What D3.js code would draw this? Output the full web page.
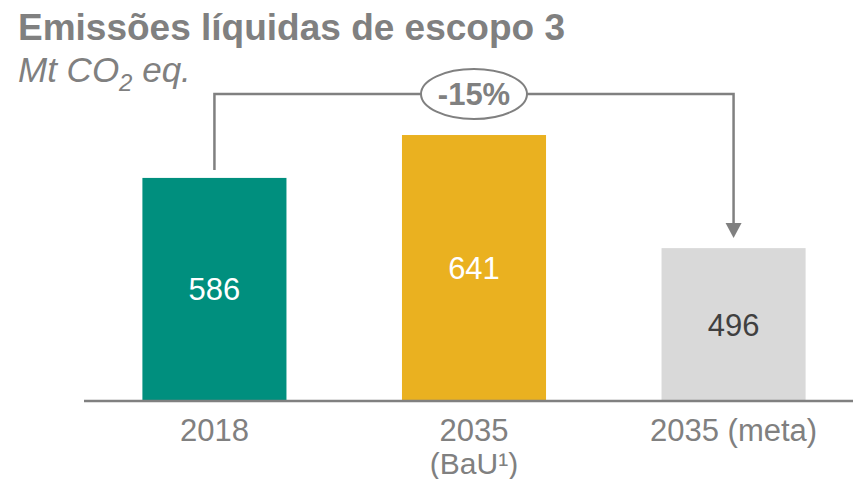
<!DOCTYPE html>
<html>
<head>
<meta charset="utf-8">
<script src="https://cdn.jsdelivr.net/npm/d3@7"></script>
<style>
  html, body { margin: 0; padding: 0; background: #ffffff; }
  svg { display: block; font-family: "Liberation Sans", Arial, sans-serif; }
</style>
</head>
<body>
<svg id="chart" width="853" height="479"></svg>
<script>
const categories = ["2018", "2035", "2035 (meta)"];
const categorySecondLine = ["", "(BaU¹)", ""];
const values = [586, 641, 496];
const barColors = ["#008F7E", "#EAB120", "#D9D9D9"];
const valueLabelColors = ["#ffffff", "#ffffff", "#404040"];
const changeLabel = "-15%";
const titleText = "Emissões líquidas de escopo 3";

const svg = d3.select("#chart");
const gray = "#808080";
const baseY = 401;

const x = d3.scaleBand()
  .domain(categories)
  .range([84, 864])
  .paddingInner(0.445)
  .paddingOuter(0.225);

const y = d3.scaleLinear().domain([300, 700]).range([baseY, 89]);

// Title
svg.append("text")
  .attr("x", 18).attr("y", 40)
  .attr("font-size", 37).attr("font-weight", "bold")
  .attr("fill", gray)
  .text(titleText);

// Subtitle
const sub = svg.append("text")
  .attr("x", 18).attr("y", 82)
  .attr("font-size", 35).attr("font-style", "italic")
  .attr("fill", gray);
sub.append("tspan").text("Mt CO");
sub.append("tspan").attr("font-size", 24).attr("dy", 9).text("2");
sub.append("tspan").attr("dy", -9).text(" eq.");

// Bars
svg.selectAll("rect.bar")
  .data(values)
  .join("rect")
  .attr("class", "bar")
  .attr("x", (d, i) => x(categories[i]))
  .attr("y", d => y(d))
  .attr("width", x.bandwidth())
  .attr("height", d => baseY - y(d))
  .attr("fill", (d, i) => barColors[i]);

// Value labels
svg.selectAll("text.val")
  .data(values)
  .join("text")
  .attr("class", "val")
  .attr("x", (d, i) => x(categories[i]) + x.bandwidth() / 2)
  .attr("y", d => (y(d) + baseY) / 2 + 11)
  .attr("text-anchor", "middle")
  .attr("font-size", 31)
  .attr("fill", (d, i) => valueLabelColors[i])
  .text(d => d);

// Axis (ticks hidden) + baseline
const axis = d3.axisBottom(x).tickSize(0).tickFormat("");
svg.append("g")
  .attr("transform", `translate(0,${baseY})`)
  .call(axis)
  .call(g => g.select(".domain").remove());
svg.append("line")
  .attr("x1", 84).attr("x2", 853)
  .attr("y1", baseY).attr("y2", baseY)
  .attr("stroke", gray).attr("stroke-width", 2.5);

// Category labels
categories.forEach((c, i) => {
  const cx = x(c) + x.bandwidth() / 2;
  const t = svg.append("text")
    .attr("x", cx).attr("y", 441)
    .attr("text-anchor", "middle")
    .attr("font-size", 31)
    .attr("fill", gray);
  t.append("tspan").attr("x", cx).text(c);
  if (categorySecondLine[i]) {
    t.append("tspan").attr("x", cx).attr("dy", 33)
      .attr("font-size", 30).text(categorySecondLine[i]);
  }
});

// Bracket connector
const x0 = x(categories[0]) + x.bandwidth() / 2;
const x2 = x(categories[2]) + x.bandwidth() / 2;
const xm = x(categories[1]) + x.bandwidth() / 2;
const topY = 94;
const arrowTip = y(values[2]) - 10;
svg.append("path")
  .attr("d", `M${x0},${y(values[0]) - 8} V${topY} H${x2} V${arrowTip - 14}`)
  .attr("fill", "none")
  .attr("stroke", gray)
  .attr("stroke-width", 2.5);
svg.append("path")
  .attr("d", `M${x2 - 8},${arrowTip - 15} L${x2 + 8},${arrowTip - 15} L${x2},${arrowTip} Z`)
  .attr("fill", gray);

svg.append("ellipse")
  .attr("cx", xm).attr("cy", topY)
  .attr("rx", 53).attr("ry", 25)
  .attr("fill", "#ffffff")
  .attr("stroke", gray)
  .attr("stroke-width", 2);
svg.append("text")
  .attr("x", xm).attr("y", topY + 11)
  .attr("text-anchor", "middle")
  .attr("font-size", 31).attr("font-weight", "bold")
  .attr("fill", gray)
  .text(changeLabel);
</script>
</body>
</html>
